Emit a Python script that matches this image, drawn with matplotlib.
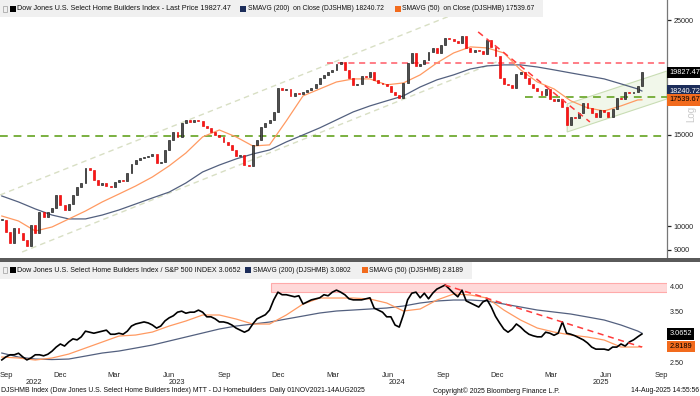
import matplotlib
matplotlib.use('Agg')
import matplotlib.pyplot as plt
import matplotlib.dates as mdates
import numpy as np
import pandas as pd
from matplotlib.patches import Rectangle, Polygon
from matplotlib.ticker import NullLocator
from matplotlib.transforms import blended_transform_factory as blend

plt.rcParams['font.family'] = ['Liberation Sans', 'DejaVu Sans']

last_day = '2025-08-14'

# weekly closes of DJSHMB (Thursdays up to 14 Aug 2025)
close = [10270, 9740, 9270, 9910, 9690, 9400, 9150, 10040, 9690, 10640,
         10410, 10640, 10830, 11480, 10980, 10740, 11030, 11480, 11900, 12110,
         12950, 12830, 12270, 12000, 12110, 11950, 11900, 12160, 12270, 12200,
         12660, 13180, 13420, 13540, 13600, 13660, 13780, 13240, 13300, 14030,
         14670, 15200, 14870, 15820, 16040, 15890, 16040, 15970, 15610, 15480,
         15200, 15000, 14870, 14540, 14350, 14030, 13660, 13720, 13120, 13070,
         14350, 14670, 15540, 15820, 16040, 16620, 18500, 18330, 18420, 17850,
         18090, 18010, 18170, 18330, 18500, 18830, 19340, 19600, 19860, 20040,
         20580, 20770, 20040, 19340, 18750, 18830, 19510, 19400, 19860, 19170,
         18910, 18830, 18660, 18170, 17930, 17690, 18910, 20670, 21610, 20400,
         20580, 20950, 21710, 22100, 21610, 22400, 23110, 23000, 22800, 22600,
         23310, 22100, 21710, 21900, 21800, 21520, 22900, 22200, 21330, 19340,
         18830, 18750, 18500, 19690, 19860, 19340, 18830, 18500, 18250, 17930,
         18410, 17610, 17460, 17610, 17000, 15680, 16250, 16180, 16550, 17300,
         16920, 16550, 16250, 16770, 16620, 16250, 16850, 17690, 17600, 18170,
         18090, 18170, 18660, 19827.47]

# DJSHMB / S&P 500 ratio, same weeks
ratio = [2.56, 2.62, 2.66, 2.66, 2.69, 2.62, 2.56, 2.60, 2.66, 2.66,
         2.64, 2.67, 2.73, 2.81, 2.87, 2.83, 2.91, 2.97, 2.95, 3.01,
         3.12, 3.10, 3.08, 3.10, 3.12, 3.14, 3.06, 3.06, 3.08, 3.06,
         3.12, 3.22, 3.26, 3.28, 3.30, 3.28, 3.24, 3.18, 3.22, 3.32,
         3.38, 3.42, 3.49, 3.51, 3.47, 3.49, 3.49, 3.53, 3.49, 3.40,
         3.40, 3.36, 3.30, 3.30, 3.28, 3.24, 3.18, 3.14, 3.10, 3.14,
         3.26, 3.36, 3.40, 3.44, 3.53, 3.73, 3.88, 3.83, 3.83, 3.81,
         3.79, 3.81, 3.65, 3.69, 3.73, 3.75, 3.77, 3.83, 3.81, 3.88,
         3.92, 3.88, 3.83, 3.75, 3.73, 3.73, 3.73, 3.75, 3.77, 3.57,
         3.53, 3.49, 3.40, 3.40, 3.24, 3.20, 3.44, 3.73, 3.86, 3.88,
         3.77, 3.86, 3.75, 3.86, 3.94, 3.98, 4.02, 3.94, 3.86, 3.79,
         3.92, 3.71, 3.67, 3.63, 3.59, 3.69, 3.73, 3.59, 3.41, 3.28,
         3.16, 3.10, 3.16, 3.26, 3.20, 3.12, 3.06, 3.03, 3.01, 3.01,
         3.10, 3.08, 3.04, 3.08, 3.30, 3.08, 3.06, 3.03, 2.99, 2.95,
         2.89, 2.81, 2.77, 2.77, 2.77, 2.75, 2.81, 2.81, 2.87, 2.83,
         2.91, 2.95, 3.01, 3.0652]

# moving averages, read every 4th week plus the last one
ma_idx = list(range(0, 153, 4)) + [153]
sma200 = [11430, 11130, 10790, 10500, 10320, 10320, 10500, 10740, 11030, 11330,
          11630, 12110, 12720, 13120, 13480, 13780, 14030, 14540, 15000, 15480,
          16040, 16620, 17070, 17460, 17850, 18570, 19170, 19600, 20120, 20400,
          20490, 20490, 20300, 20040, 19770, 19510, 19250, 18830, 18410, 18240.72]
sma50 = [10455, 10225, 9780, 9956, 10317, 10690, 11130, 11530, 11950, 12440,
         13070, 13840, 14870, 15335, 14870, 14280, 14350, 15965, 17850, 18410,
         18990, 19250, 19250, 18750, 18910, 19600, 20670, 21610, 22200, 22100,
         21610, 20040, 18990, 18410, 17460, 16920, 16690, 17070, 17530, 17539.67]
ratio_sma200 = [2.694, 2.616, 2.577, 2.567, 2.577, 2.635, 2.694, 2.733, 2.791, 2.850,
                2.928, 3.006, 3.084, 3.162, 3.220, 3.259, 3.298, 3.357, 3.415, 3.474,
                3.513, 3.532, 3.552, 3.571, 3.610, 3.669, 3.708, 3.727, 3.727, 3.708,
                3.649, 3.591, 3.532, 3.493, 3.454, 3.396, 3.337, 3.240, 3.123, 3.0802]
ratio_sma50 = [2.616, 2.597, 2.558, 2.597, 2.674, 2.791, 2.908, 3.025, 3.045, 3.103,
               3.220, 3.318, 3.435, 3.435, 3.357, 3.259, 3.259, 3.435, 3.649, 3.766,
               3.766, 3.766, 3.747, 3.669, 3.513, 3.552, 3.727, 3.844, 3.825, 3.766,
               3.532, 3.337, 3.181, 3.103, 3.045, 3.006, 2.947, 2.811, 2.811, 2.8189]

# drawn annotations (levels and trend lines)
resist_start, resist_level = '2024-03-05', 20670
support_hi_start, support_hi = '2025-01-30', 17760
support_lo = 14900
chan_upper = (['2022-09-05', '2024-11-16'], [11480, 26880])
chan_lower = (['2022-10-12', '2024-12-14'], [8907, 20770])
down_trend = (['2024-11-13', '2025-05-19'], [23730, 15894])
up_band_lo = (['2025-04-11', '2025-09-25'], [15200, 17610])
up_band_hi = (['2025-04-11', '2025-09-25'], [17220, 19940])
ratio_box = ('2023-12-02', 3.876, 4.053)
ratio_trend = (['2024-09-18', '2025-08-14'], [4.02, 2.81])

month_ticks = ['2022-09-15', '2022-12-15', '2023-03-15', '2023-06-15', '2023-09-15',
               '2023-12-15', '2024-03-15', '2024-06-15', '2024-09-15', '2024-12-15',
               '2025-03-15', '2025-06-15', '2025-09-15']
month_names = ['Sep', 'Dec', 'Mar', 'Jun'] * 3 + ['Sep']
year_pos = ['2022-11-01', '2023-06-28', '2024-06-30', '2025-06-07']
year_names = ['2022', '2023', '2024', '2025']

W, H = 700, 396
x0, x1 = mdates.datestr2num('2022-09-05'), mdates.datestr2num('2025-09-25')


def px_box(l, t, r, b):
    return [l / W, 1 - b / H, (r - l) / W, (b - t) / H]


def d2n(lst):
    return mdates.datestr2num(lst)


fig = plt.figure(figsize=(W / 100, H / 100), dpi=100)
ax = fig.add_axes(px_box(0, 0, 667, 258))
ax2 = fig.add_axes(px_box(0, 280, 667, 368))

xs = mdates.date2num(pd.date_range(end=last_day, periods=len(close), freq='7D'))
ma_x = xs[ma_idx]

# ---- price panel ----
cl = np.array(close, dtype=float)
op = np.r_[cl[0], cl[:-1]]
up = cl >= op
body = cl - op
tiny = cl * 0.004
body = np.where(np.abs(body) < tiny, np.where(up, tiny, -tiny), body)
ax.bar(xs[up], body[up], bottom=op[up], width=3.2, color='#505050',
       edgecolor='#111111', linewidth=0.45, zorder=4)
ax.bar(xs[~up], body[~up], bottom=op[~up], width=3.2, color='#ff1414',
       edgecolor='#e00000', linewidth=0.45, zorder=4)

ax.plot(ma_x, sma200, color='#53607f', lw=0.9, zorder=3)
ax.plot(ma_x, sma50, color='#ff9a62', lw=0.9, zorder=3)

dash = dict(dashes=(4, 3))
ax.plot(d2n(chan_upper[0]), chan_upper[1], color='#d8dfc4', lw=1.0, **dash, zorder=2)
ax.plot(d2n(chan_lower[0]), chan_lower[1], color='#d8dfc4', lw=1.0, **dash, zorder=2)
ax.plot([mdates.datestr2num(resist_start), x1], [resist_level] * 2,
        color='#ff5a66', lw=1.1, **dash, zorder=2)
ax.plot([mdates.datestr2num(support_hi_start), x1], [support_hi] * 2,
        color='#7ab040', lw=1.4, **dash, zorder=2)
ax.plot([x0, x1], [support_lo] * 2, color='#7ab040', lw=1.4, **dash, zorder=2)
ax.plot(d2n(down_trend[0]), down_trend[1], color='#ff3b3b', lw=1.1, **dash, zorder=5)

bx = d2n(up_band_lo[0])
band = Polygon([(bx[0], up_band_lo[1][0]), (bx[1], up_band_lo[1][1]),
                (bx[1], up_band_hi[1][1]), (bx[0], up_band_hi[1][0])],
               closed=True, fc='#f1f7ea', ec='#c9ddb4', lw=0.8, zorder=1)
ax.add_patch(band)

ax.set_yscale('log')
ax.set_ylim(8672, 27355)
ax.set_xlim(x0, x1)
ax.yaxis.tick_right()
ax.set_yticks([9000, 10000, 15000, 25000])
ax.set_yticklabels(['9000', '10000', '15000', '25000'])
ax.yaxis.set_minor_locator(NullLocator())
ax.tick_params(axis='y', direction='out', length=3, width=0.9, pad=1.5,
               labelsize=5.2, colors='#222222')
ax.set_xticks([])
for s in ['top', 'left', 'bottom']:
    ax.spines[s].set_visible(False)
ax.spines['right'].set_color('#777777')
ax.spines['right'].set_linewidth(0.9)

# ---- ratio panel ----
rb = Rectangle((mdates.datestr2num(ratio_box[0]), ratio_box[1]),
               x1 - mdates.datestr2num(ratio_box[0]), ratio_box[2] - ratio_box[1],
               fc='#ffd9d9', ec='#ffaaaa', lw=0.8, zorder=1)
ax2.add_patch(rb)
ax2.plot(ma_x, ratio_sma200, color='#53607f', lw=0.9, zorder=3)
ax2.plot(ma_x, ratio_sma50, color='#ff9a62', lw=0.9, zorder=3)
ax2.plot(xs, ratio, color='black', lw=1.2, zorder=4)
ax2.plot(d2n(ratio_trend[0]), ratio_trend[1], color='#ff3b3b', lw=1.1, **dash, zorder=5)

ax2.set_xlim(x0, x1)
ax2.set_ylim(2.4025, 4.117)
ax2.yaxis.tick_right()
# 3.00 sits under the last-value tag in the original, so only these show
ax2.set_yticks([2.5, 3.5, 4.0])
ax2.set_yticklabels(['2.50', '3.50', '4.00'])
ax2.tick_params(axis='y', length=0, pad=2, labelsize=5.2, colors='#222222')
ax2.set_xticks(d2n(month_ticks))
ax2.set_xticklabels(month_names)
ax2.tick_params(axis='x', length=0, pad=3, labelsize=5.4, colors='#222222')
for s in ax2.spines.values():
    s.set_visible(False)
for yp, yn in zip(year_pos, year_names):
    ax2.text(mdates.datestr2num(yp), -0.17, yn, transform=blend(ax2.transData, ax2.transAxes),
             ha='center', va='center', fontsize=5.4, color='#222222')


def tag(a, y, s, fc, tc='white'):
    a.text(1.004, y, s, transform=blend(a.transAxes, a.transData), ha='left', va='center',
           fontsize=5.3, color=tc, clip_on=False, zorder=10,
           bbox=dict(boxstyle='square,pad=0.3', fc=fc, ec='none'))


tag(ax, close[-1], '19827.47', 'black')
tag(ax, sma200[-1], '18240.72', '#1c2d5a')
tag(ax, sma50[-1], '17539.67', '#f26b1d', 'black')
tag(ax2, ratio[-1], '3.0652', 'black')
tag(ax2, ratio_sma50[-1], '2.8189', '#f26b1d', 'black')

fig.text(691 / W, 1 - 114 / H, 'Log', rotation=90, fontsize=7, color='#c8c8c8',
         ha='center', va='center')

# ---- legends, separator, footer ----
fig.add_artist(Rectangle((0, 1 - 17 / H), 543 / W, 17 / H, transform=fig.transFigure,
                         fc='#f0f0f0', ec='none', zorder=20))
fig.add_artist(Rectangle((0, 1 - 279 / H), 472 / W, 17 / H, transform=fig.transFigure,
                         fc='#f0f0f0', ec='none', zorder=20))
fig.add_artist(Rectangle((0, 1 - 262 / H), 1, 4 / H, transform=fig.transFigure,
                         fc='#5a5a5a', ec='none', zorder=20))


def legend_item(xsq, xt, yc, col, label, fs=5.0):
    fig.add_artist(Rectangle((xsq / W, 1 - (yc + 3) / H), 6 / W, 6 / H,
                             transform=fig.transFigure, fc=col, ec='none', zorder=21))
    fig.text(xt / W, 1 - yc / H, label, fontsize=fs, color='#111111',
             ha='left', va='center', zorder=21)


for yc in (9, 270):
    fig.add_artist(Rectangle((3 / W, 1 - (yc + 3) / H), 4 / W, 6 / H,
                             transform=fig.transFigure, fc='none', ec='#aaaaaa',
                             lw=0.6, zorder=21))
legend_item(10, 17, 9, 'black', 'Dow Jones U.S. Select Home Builders Index - Last Price 19827.47', 5.2)
legend_item(240, 248, 9, '#1c2d5a', 'SMAVG (200)  on Close (DJSHMB) 18240.72', 4.9)
legend_item(395, 402, 9, '#f26b1d', 'SMAVG (50)  on Close (DJSHMB) 17539.67', 4.9)
legend_item(10, 17, 270, 'black', 'Dow Jones U.S. Select Home Builders Index / S&P 500 INDEX 3.0652', 5.1)
legend_item(245, 253, 270, '#1c2d5a', 'SMAVG (200) (DJSHMB) 3.0802', 4.9)
legend_item(362, 369, 270, '#f26b1d', 'SMAVG (50) (DJSHMB) 2.8189', 4.9)

fy = 1 - 391 / H
fig.text(1 / W, fy, 'DJSHMB Index (Dow Jones U.S. Select Home Builders Index) MTT - DJ Homebuilders'
         '  Daily 01NOV2021-14AUG2025', fontsize=4.95, color='#111111', ha='left', va='center')
fig.text(433 / W, fy, 'Copyright\u00a9 2025 Bloomberg Finance L.P.', fontsize=4.95,
         color='#111111', ha='left', va='center')
fig.text(699 / W, fy, '14-Aug-2025 14:55:56', fontsize=4.95, color='#111111',
         ha='right', va='center')

fig.savefig('out.png', dpi=100)
